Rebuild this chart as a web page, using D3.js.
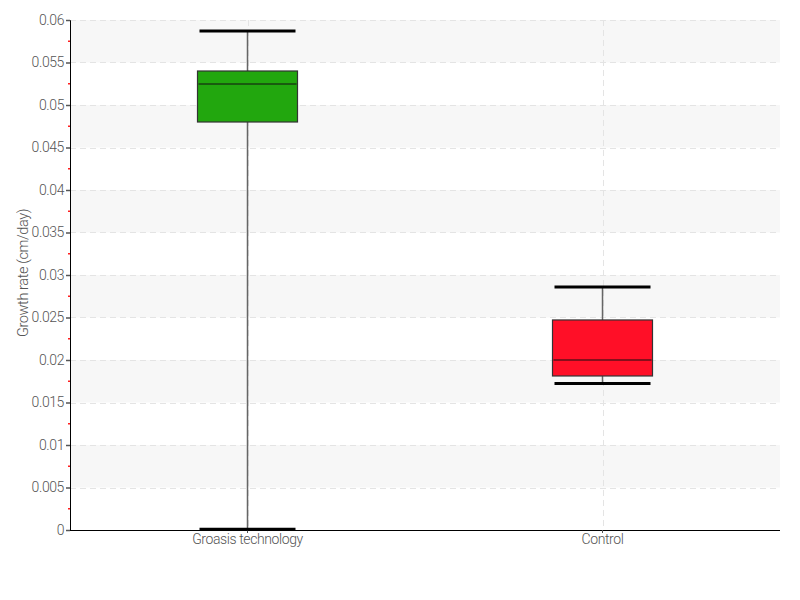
<!DOCTYPE html>
<html><head><meta charset="utf-8">
<script src="https://cdn.jsdelivr.net/npm/d3@7"></script>
<style>body{margin:0;background:#fff}svg text{font-family:Roboto,"DejaVu Sans Condensed",sans-serif;font-weight:300;fill:#555;letter-spacing:-0.4px}</style>
</head><body><svg id="c" width="800" height="600"></svg>
<script>
const categories = ["Groasis technology", "Control"];
const whiskerLow = [0.0001, 0.01724];
const q1 = [0.0480, 0.01812];
const median = [0.05247, 0.0200];
const q3 = [0.0540, 0.02471];
const whiskerHigh = [0.0587, 0.02859];
const colors = ["#22a70e", "#ff0f27"];
const yTicks = d3.range(0, 0.0601, 0.005);
const yTickLabels = ["0","0.005","0.01","0.015","0.02","0.025","0.03","0.035","0.04","0.045","0.05","0.055","0.06"];

const svg = d3.select("#c");
const L = 70, R = 780, T = 20, B = 530;
const x = d3.scaleBand().domain(categories).range([L, R]);
const y = d3.scaleLinear().domain([0, 0.06]).range([B, T]);

const bands = yTicks.slice(0, -1).filter((d, i) => i % 2 === 1);
svg.selectAll(".band").data(bands).enter().append("rect")
  .attr("x", L).attr("width", R - L)
  .attr("y", d => y(d + 0.005)).attr("height", d => y(d) - y(d + 0.005))
  .attr("fill", "#f7f7f7");
svg.selectAll(".hg").data(yTicks.slice(1)).enter().append("line")
  .attr("x1", L).attr("x2", R).attr("y1", d => Math.round(y(d)) + 0.5).attr("y2", d => Math.round(y(d)) + 0.5)
  .attr("stroke", "#e4e4e4").attr("stroke-dasharray", "6,4");
svg.selectAll(".vg").data(categories).enter().append("line")
  .attr("x1", d => Math.round(x(d) + x.bandwidth() / 2) + 0.5).attr("x2", d => Math.round(x(d) + x.bandwidth() / 2) + 0.5)
  .attr("y1", T).attr("y2", B)
  .attr("stroke", "#e4e4e4").attr("stroke-dasharray", "6,4");

const yAxis = d3.axisLeft(y).tickValues(yTicks).tickFormat((d, i) => yTickLabels[i]).tickSize(4).tickPadding(2);
const gy = svg.append("g").attr("transform", `translate(${L},0)`).call(yAxis);
gy.select(".domain").attr("stroke", "#000");
gy.selectAll(".tick line").attr("stroke", "#555").attr("stroke-width", 1.5);
gy.selectAll(".tick text").attr("font-size", 14).style("fill", "#555");
const minor = yTicks.slice(0, -1).map(d => d + 0.0025);
svg.selectAll(".mt").data(minor).enter().append("line")
  .attr("x1", L - 2).attr("x2", L).attr("y1", d => y(d)).attr("y2", d => y(d))
  .attr("stroke", "#ff2020").attr("stroke-width", 1.5);

const xAxis = d3.axisBottom(x).tickSize(3).tickPadding(1);
const gx = svg.append("g").attr("transform", `translate(0,${B})`).call(xAxis);
gx.select(".domain").attr("stroke", "#000").attr("d", `M${L},0.5H${R}`);
gx.selectAll(".tick line").attr("stroke", "#555");
gx.selectAll(".tick text").attr("font-size", 14).style("fill", "#555");

svg.append("text").attr("transform", `translate(28,273) rotate(-90)`)
  .attr("text-anchor", "middle").attr("font-size", 14.5).text("Growth rate (cm/day)");

const idx = categories.map((c, i) => i);
const cx = i => x(categories[i]) + x.bandwidth() / 2;
const g = svg.append("g");
g.selectAll(".wl").data(idx).enter().append("line")
  .attr("x1", i => cx(i)).attr("x2", i => cx(i))
  .attr("y1", i => y(whiskerLow[i])).attr("y2", i => y(whiskerHigh[i]))
  .attr("stroke", "#666").attr("stroke-width", 1.5);
g.selectAll(".bx").data(idx).enter().append("rect")
  .attr("x", i => cx(i) - 50).attr("width", 100)
  .attr("y", i => y(q3[i])).attr("height", i => y(q1[i]) - y(q3[i]))
  .attr("fill", i => colors[i]).attr("stroke", "#333").attr("stroke-width", 1.2);
g.selectAll(".md").data(idx).enter().append("line")
  .attr("x1", i => cx(i) - 49).attr("x2", i => cx(i) + 49)
  .attr("y1", i => y(median[i])).attr("y2", i => y(median[i]))
  .attr("stroke", "#111").attr("stroke-width", 1.2);
[whiskerLow, whiskerHigh].forEach(arr => {
  g.selectAll(null).data(idx).enter().append("line")
    .attr("x1", i => cx(i) - 48).attr("x2", i => cx(i) + 48)
    .attr("y1", i => y(arr[i])).attr("y2", i => y(arr[i]))
    .attr("stroke", "#000").attr("stroke-width", 3);
});
</script></body></html>
